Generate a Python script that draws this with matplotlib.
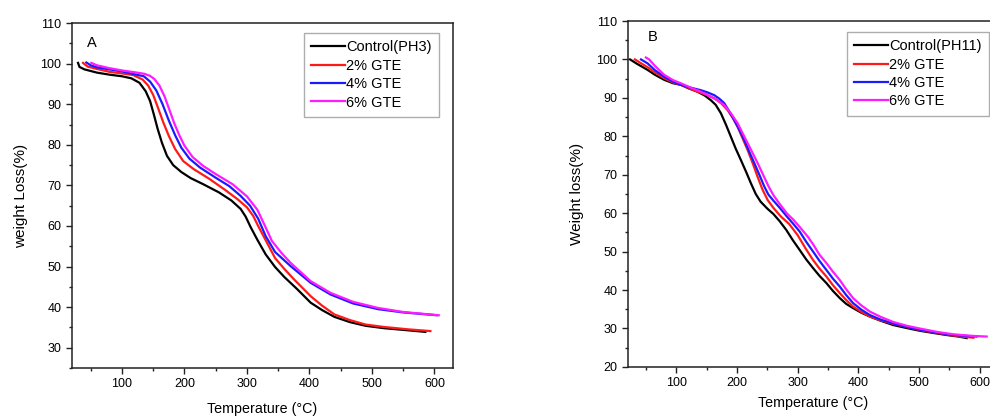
import matplotlib
matplotlib.use("Agg")
import matplotlib.pyplot as plt
from matplotlib.ticker import MultipleLocator

plt.rcParams['font.family'] = ['Liberation Sans', 'DejaVu Sans']

# ---------- Panel A (PH3) ----------
a_ctrl_x = [29.7, 32, 40, 60, 80, 100, 115, 128, 138, 145, 151, 157, 164, 172, 182, 195, 210, 230, 255, 275, 290, 298, 306, 316.7, 330, 345, 360, 380, 402, 420, 440, 465, 490, 520, 550, 585.6]
a_ctrl_y = [100.2, 99.2, 98.6, 97.8, 97.3, 96.9, 96.4, 95.3, 93.2, 90.8, 87.5, 84.0, 80.5, 77.3, 75.0, 73.3, 71.8, 70.3, 68.3, 66.3, 64.2, 62.3, 59.7, 56.6, 53.0, 49.9, 47.4, 44.5, 41.1, 39.3, 37.6, 36.3, 35.4, 34.8, 34.4, 33.9]

a_2_x = [37.7, 45, 60, 80, 100, 118, 133, 142, 150, 158, 166, 175, 185, 198, 215, 240, 265, 285, 300, 310, 318, 330, 345, 360, 375, 402, 420, 440, 465, 490, 520, 560, 593.6]
a_2_y = [100.2, 99.3, 98.7, 98.0, 97.6, 97.2, 96.1, 94.6, 92.3, 89.0, 85.6, 82.2, 79.0, 76.0, 74.0, 71.6, 68.9, 66.6, 64.6, 62.5, 60.0, 56.5, 52.1, 49.4, 46.9, 42.7, 40.4, 38.2, 36.8, 35.7, 35.1, 34.5, 34.1]

a_4_x = [43, 50, 60, 80, 100, 120, 135, 145, 155, 165, 175, 185, 195, 208, 225, 250, 272, 290, 305, 318, 330, 345, 370, 402, 434, 470, 510, 550, 604]
a_4_y = [100.3, 99.6, 99.1, 98.6, 98.1, 97.4, 96.9, 95.6, 93.4, 90.0, 86.0, 82.4, 79.3, 76.6, 74.4, 71.9, 69.8, 67.4, 65.0, 61.8, 57.5, 53.6, 50.1, 46.0, 43.1, 40.9, 39.5, 38.7, 38.0]

a_6_x = [51, 60, 80, 101.6, 120, 136, 145, 152, 160, 168, 176, 184, 192, 200, 213, 230, 250, 277, 300, 316.7, 328, 340, 355, 370, 402, 434, 470, 510, 550, 607]
a_6_y = [100.2, 99.6, 98.9, 98.3, 97.9, 97.5, 97.0, 96.2, 94.6, 92.0, 88.6, 85.2, 82.3, 79.8, 77.0, 74.8, 72.8, 70.3, 67.3, 64.0, 60.3, 56.3, 53.4, 50.9, 46.4, 43.5, 41.3, 39.8, 38.8, 38.0]

# ---------- Panel B (PH11) ----------
b_ctrl_x = [24, 35, 52.6, 65, 80.2, 95, 107.6, 120, 135, 147, 157, 165, 173.6, 182, 190, 198, 206.6, 215, 223, 231, 239, 250, 260, 270, 281.5, 292, 303.5, 314, 325.5, 336, 347.5, 358, 369.5, 380, 391.4, 405, 419, 437, 457.4, 480, 501.5, 525, 545.5, 565, 578.5]
b_ctrl_y = [100.0, 98.9, 97.3, 96.0, 94.7, 93.8, 93.4, 92.5, 91.6, 90.6, 89.4, 88.2, 86.0, 83.0, 79.9, 76.8, 73.8, 70.8, 67.8, 65.0, 63.0, 61.2, 59.8, 58.0, 55.6, 53.0, 50.4, 48.0, 45.7, 43.7, 41.8, 39.8, 37.9, 36.4, 35.3, 34.1, 33.1, 32.0, 30.9, 30.1, 29.4, 28.8, 28.3, 27.9, 27.5]

b_2_x = [32, 42, 52.6, 65, 80.2, 95, 107.6, 120, 135, 150, 162.7, 174, 184.7, 193, 201, 209, 217.7, 226, 234, 242, 250.7, 260, 272.6, 286, 300, 314, 325.5, 336, 347.5, 358, 369.5, 380, 391.4, 405, 419, 437, 457.4, 480, 501, 535, 567.5, 589.5]
b_2_y = [100.0, 99.0, 98.0, 96.6, 95.1, 94.0, 93.4, 92.6, 91.6, 90.8, 89.9, 88.6, 86.8, 84.8, 82.5, 79.6, 76.4, 73.0, 69.5, 66.2, 63.4, 61.4, 59.1, 57.2, 54.3, 50.6, 47.8, 45.6, 43.5, 41.3, 39.2, 37.4, 35.7, 34.3, 33.1, 32.1, 31.2, 30.4, 29.6, 28.7, 27.9, 27.6]

b_4_x = [42, 52.6, 65, 80.2, 95, 107.6, 125, 140.6, 152, 162.7, 171, 179.2, 187, 195.7, 204, 212.2, 220, 228.7, 237.5, 245.2, 252, 260.5, 270, 282.5, 293, 303.5, 314, 325.5, 336, 347.5, 358, 369.5, 380, 391.4, 405, 419, 437, 457.4, 480, 501, 530, 556.5, 595]
b_4_y = [100.0, 99.0, 97.2, 95.5, 94.2, 93.4, 92.6, 92.0, 91.4, 90.7, 89.8, 88.6, 86.6, 84.2, 81.7, 79.0, 76.1, 73.0, 69.8, 66.9, 64.8, 63.2, 61.5, 59.1, 57.2, 55.2, 52.6, 50.0, 47.6, 45.2, 43.0, 40.9, 38.7, 36.6, 34.9, 33.5, 32.3, 31.3, 30.4, 29.7, 28.9, 28.3, 27.9]

b_6_x = [50, 55.4, 65, 80.2, 95, 107.6, 125, 140.6, 157, 168, 179.2, 190, 201.2, 210, 217.7, 226, 234.2, 245.2, 252, 260.5, 270, 282.5, 293, 303.5, 316.7, 325.5, 336, 347.5, 358, 369.5, 380, 391.4, 405, 419, 437, 457.4, 480, 501, 530, 556, 585, 611.5]
b_6_y = [100.5, 100.0, 98.3, 96.0, 94.6, 93.8, 92.6, 91.6, 90.3, 89.4, 88.1, 86.0, 83.4, 80.6, 78.2, 75.6, 73.0, 69.3, 67.0, 64.6, 62.5, 59.9, 58.3, 56.4, 53.9, 51.9, 49.2, 47.0, 44.8, 42.6, 40.2, 37.9, 36.0, 34.4, 33.0, 31.7, 30.7, 30.0, 29.1, 28.5, 28.1, 27.9]

labels_a = ['Control(PH3)', '2% GTE', '4% GTE', '6% GTE']
labels_b = ['Control(PH11)', '2% GTE', '4% GTE', '6% GTE']
colors = ['#000000', '#ff1a1a', '#1a1aff', '#ff1aff']

fig = plt.figure(figsize=(9.9, 4.16), dpi=100)
axA = fig.add_axes([0.0727, 0.1154, 0.385, 0.829])
axB = fig.add_axes([0.634, 0.118, 0.374, 0.8315])


def style(ax, ylim, ylabel, tag, lx, ly, lbls, leg_anchor, xpad):
    ax.set_xlim(20, 630)
    ax.set_ylim(*ylim)
    ax.xaxis.set_major_locator(MultipleLocator(100))
    ax.xaxis.set_minor_locator(MultipleLocator(50))
    ax.yaxis.set_major_locator(MultipleLocator(10))
    ax.yaxis.set_minor_locator(MultipleLocator(5))
    ax.tick_params(which='major', direction='out', length=4, width=1, labelsize=9, color='#222222')
    ax.tick_params(which='minor', direction='out', length=2.5, width=1, color='#222222')
    ax.tick_params(top=False, right=False)
    for s in ax.spines.values():
        s.set_linewidth(1.1)
        s.set_color('#222222')
    ax.set_xlabel('Temperature (°C)', fontsize=10.3, labelpad=xpad)
    ax.set_ylabel(ylabel, fontsize=11, labelpad=9)
    ax.text(lx, ly, tag, transform=ax.transAxes, fontsize=10.5)
    leg = ax.legend(lbls, loc='upper left', bbox_to_anchor=leg_anchor, fontsize=10.5,
                    frameon=True, fancybox=False, edgecolor='#999999', handlelength=2.3,
                    handletextpad=0.1, borderpad=0.5, labelspacing=0.3, borderaxespad=0.0)
    leg.get_frame().set_linewidth(1.0)


series_a = [(a_ctrl_x, a_ctrl_y), (a_2_x, a_2_y), (a_4_x, a_4_y), (a_6_x, a_6_y)]
for (x, y), c in zip(series_a, colors):
    axA.plot(x, y, color=c, lw=1.6, solid_joinstyle='round')
style(axA, (25, 110), 'weight Loss(%)', 'A', 0.04, 0.931, labels_a, (0.609, 0.971), 8)

series_b = [(b_ctrl_x, b_ctrl_y), (b_2_x, b_2_y), (b_4_x, b_4_y), (b_6_x, b_6_y)]
for (x, y), c in zip(series_b, colors):
    axB.plot(x, y, color=c, lw=1.6, solid_joinstyle='round')
style(axB, (20, 110), 'Weight loss(%)', 'B', 0.055, 0.943, labels_b, (0.592, 0.968), 5)

fig.savefig('out.png', dpi=100)
